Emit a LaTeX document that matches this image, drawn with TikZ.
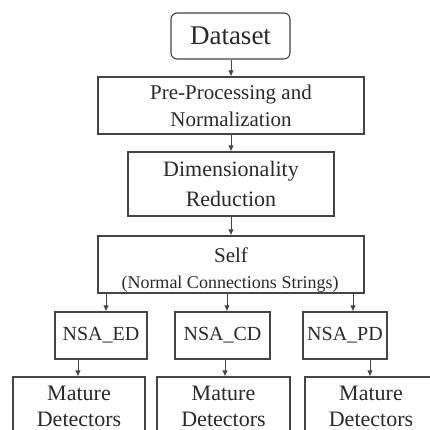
\documentclass[tikz,border=0pt]{standalone}
\usepackage{fontspec}
\setmainfont{Liberation Serif}
\usetikzlibrary{arrows.meta}
\definecolor{inkc}{HTML}{2A2A2A}
\definecolor{linec}{HTML}{454545}
\begin{document}
\begin{tikzpicture}[x=1pt,y=1pt,
  box/.style={draw=linec,line width=1.1pt,inner sep=0pt,align=center,text=inkc},
  arr/.style={draw=linec,line width=1pt,-{Latex[length=6pt,width=5.5pt]}}]
\fill[white] (0,0) rectangle (430,-430);
\useasboundingbox (0,0) rectangle (430,-430);
\clip (0,0) rectangle (430,-430);
\node[box,rounded corners=6pt,minimum width=119pt,minimum height=46pt,font=\fontsize{27}{30}\selectfont] (ds) at (230.5,-36) {Dataset};
\node[box,minimum width=266pt,minimum height=57pt,font=\fontsize{21}{27}\selectfont] (pre) at (231,-105.5) {Pre-Processing and\\Normalization};
\node[box,minimum width=206pt,minimum height=64pt,font=\fontsize{22}{30}\selectfont] (dim) at (231,-184) {Dimensionality\\Reduction};
\node[box,minimum width=266pt,minimum height=57pt] (self) at (231,-264.5) {};
\node[text=inkc,font=\fontsize{21}{24}\selectfont,anchor=base] (selft) at (231,-262) {Self};
\node[text=inkc,font=\fontsize{18}{20}\selectfont,anchor=base] (selfp) at (230,-288) {(Normal Connections Strings)};
\node[box,minimum width=92pt,minimum height=47pt,font=\fontsize{20}{24}\selectfont] (ed) at (101,-335.5) {NSA\_ED};
\node[box,minimum width=95pt,minimum height=47pt,font=\fontsize{20}{24}\selectfont] (cd) at (222.5,-335.5) {NSA\_CD};
\node[box,minimum width=84pt,minimum height=47pt,font=\fontsize{20}{24}\selectfont] (pd) at (345,-335.5) {NSA\_PD};
\node[box,minimum width=132pt,minimum height=66pt] (m1) at (79,-410) {};
\node[box,minimum width=133pt,minimum height=66pt] (m2) at (223.5,-410) {};
\node[box,minimum width=132pt,minimum height=66pt] (m3) at (371,-410) {};
\foreach \n/\x in {m1/79,m2/223.5,m3/371}{
  \node[text=inkc,font=\fontsize{22}{26}\selectfont,anchor=base] (\n a) at (\x,-400) {Mature};
  \node[text=inkc,font=\fontsize{22}{26}\selectfont,anchor=base] (\n b) at (\x,-426) {Detectors};
}
\coordinate (c0) at (231,0);
\coordinate (c1) at (106,0);
\coordinate (c2) at (227,0);
\coordinate (c3) at (353,0);
\coordinate (d1) at (78,0);
\coordinate (d2) at (225,0);
\coordinate (d3) at (370,0);
\draw[arr] (ds.south -| c0) -- (pre.north -| c0);
\draw[arr] (pre.south -| c0) -- (dim.north -| c0);
\draw[arr] (dim.south -| c0) -- (self.north -| c0);
\draw[arr] (self.south -| c1) -- (ed.north -| c1);
\draw[arr] (self.south -| c2) -- (cd.north -| c2);
\draw[arr] (self.south -| c3) -- (pd.north -| c3);
\draw[arr] (ed.south -| d1) -- (m1.north -| d1);
\draw[arr] (cd.south -| d2) -- (m2.north -| d2);
\draw[arr] (pd.south -| d3) -- (m3.north -| d3);
\end{tikzpicture}
\end{document}
